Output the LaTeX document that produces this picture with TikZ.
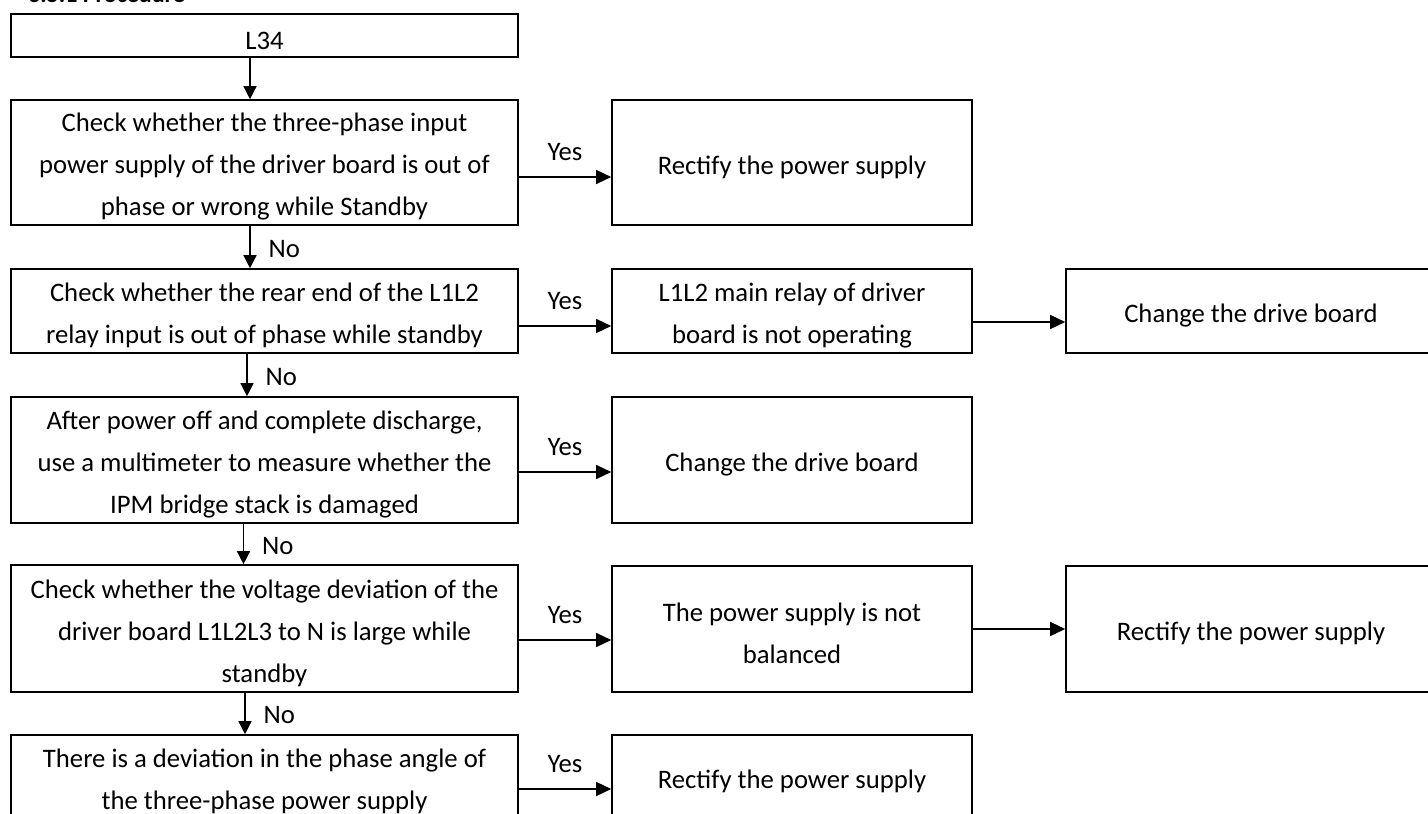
\documentclass[tikz,border=0pt]{standalone}
\usepackage{fontspec}
\setmainfont{Carlito}
\usetikzlibrary{arrows.meta}
% taller first line, so the text sits a little low in its box
\newcommand{\firstln}{\rule{0pt}{27.5pt}}
\begin{document}
\begin{tikzpicture}[x=1pt,y=-1pt,
  box/.style={draw=black, line width=1.6pt, inner sep=0pt, align=center,
    font=\fontsize{26.7}{42}\selectfont},
  leftbox/.style={box, minimum width=507pt},
  midbox/.style={box, minimum width=360pt},
  rightbox/.style={box, minimum width=370pt},
  flow/.style={line width=1.4pt, -{Triangle[length=15pt,width=14pt]}},
  downflow/.style={line width=1.4pt, -{Triangle[length=13pt,width=13pt]}},
  lbl/.style={font=\fontsize{26.7}{30}\selectfont, inner sep=0pt}]

\useasboundingbox (0,0) rectangle (1428,814);
\clip (0,0) rectangle (1428,814);

% section heading, mostly above the page edge
\node[font=\bfseries\fontsize{24}{28}\selectfont, anchor=base west, inner sep=0pt]
  (head) at (28,2) {3.5.1 Procedure};

% main column
\node[leftbox, minimum height=43pt]  (b1) at (264.5,35.5) {\firstln L34};
\node[leftbox, minimum height=125pt] (b2) at (264.5,162.5)
  {\firstln Check whether the three-phase input\\power supply of the driver board is out of\\phase or wrong while Standby};
\node[leftbox, minimum height=84pt]  (b3) at (264.5,311)
  {\firstln Check whether the rear end of the L1L2\\relay input is out of phase while standby};
\node[leftbox, minimum height=126pt] (b4) at (264.5,460)
  {\firstln After power off and complete discharge,\\use a multimeter to measure whether the\\IPM bridge stack is damaged};
\node[leftbox, minimum height=127pt] (b5) at (264.5,628.5)
  {\firstln Check whether the voltage deviation of the\\driver board L1L2L3 to N is large while\\standby};
\node[leftbox, minimum height=84pt]  (b6) at (264.5,777)
  {\firstln There is a deviation in the phase angle of\\the three-phase power supply};

% middle column
\node[midbox, minimum height=125pt] (m2) at (792,162.5) {\firstln Rectify the power supply};
\node[midbox, minimum height=84pt]  (m3) at (792,311) {\firstln L1L2 main relay of driver\\board is not operating};
\node[midbox, minimum height=126pt] (m4) at (792,460) {\firstln Change the drive board};
\node[midbox, minimum height=126pt] (m5) at (792,629) {\firstln The power supply is not\\balanced};
\node[midbox, minimum height=84pt]  (m6) at (792,777) {\firstln Rectify the power supply};

% right column
\node[rightbox, minimum height=84pt]  (r3) at (1251,311) {\firstln Change the drive board};
\node[rightbox, minimum height=126pt] (r5) at (1251,629) {\firstln Rectify the power supply};

% "No" branches
\draw[downflow] ([xshift=-14.5pt]b1.south) -- ([xshift=-14.5pt]b2.north);
\draw[downflow] ([xshift=-14.5pt]b2.south) -- ([xshift=-14.5pt]b3.north)
  node[lbl, midway, right=18pt, yshift=-2pt] {No};
\draw[downflow] ([xshift=-17.5pt]b3.south) -- ([xshift=-17.5pt]b4.north)
  node[lbl, midway, right=18pt, yshift=-2pt] {No};
\draw[downflow] ([xshift=-21pt]b4.south) -- ([xshift=-21pt]b5.north)
  node[lbl, midway, right=18pt, yshift=-2pt] {No};
\draw[downflow] ([xshift=-19.5pt]b5.south) -- ([xshift=-19.5pt]b6.north)
  node[lbl, midway, right=18pt, yshift=-2pt] {No};

% "Yes" branches
\draw[flow] ([yshift=-14.5pt]b2.east) -- ([yshift=-14.5pt]b2.east -| m2.west)
  node[lbl, midway, above=15.5pt] {Yes};
\draw[flow] ([yshift=-15pt]b3.east) -- ([yshift=-15pt]b3.east -| m3.west)
  node[lbl, midway, above=15.5pt] {Yes};
\draw[flow] ([yshift=-12pt]b4.east) -- ([yshift=-12pt]b4.east -| m4.west)
  node[lbl, midway, above=15.5pt] {Yes};
\draw[flow] ([yshift=-11.5pt]b5.east) -- ([yshift=-11.5pt]b5.east -| m5.west)
  node[lbl, midway, above=15.5pt] {Yes};
\draw[flow] ([yshift=-12pt]b6.east) -- ([yshift=-12pt]b6.east -| m6.west)
  node[lbl, midway, above=15.5pt] {Yes};

% follow-up actions
\draw[flow] ([yshift=-11pt]m3.east) -- ([yshift=-11pt]m3.east -| r3.west);
\draw[flow] (m5.east) -- (m5.east -| r5.west);

\end{tikzpicture}
\end{document}
